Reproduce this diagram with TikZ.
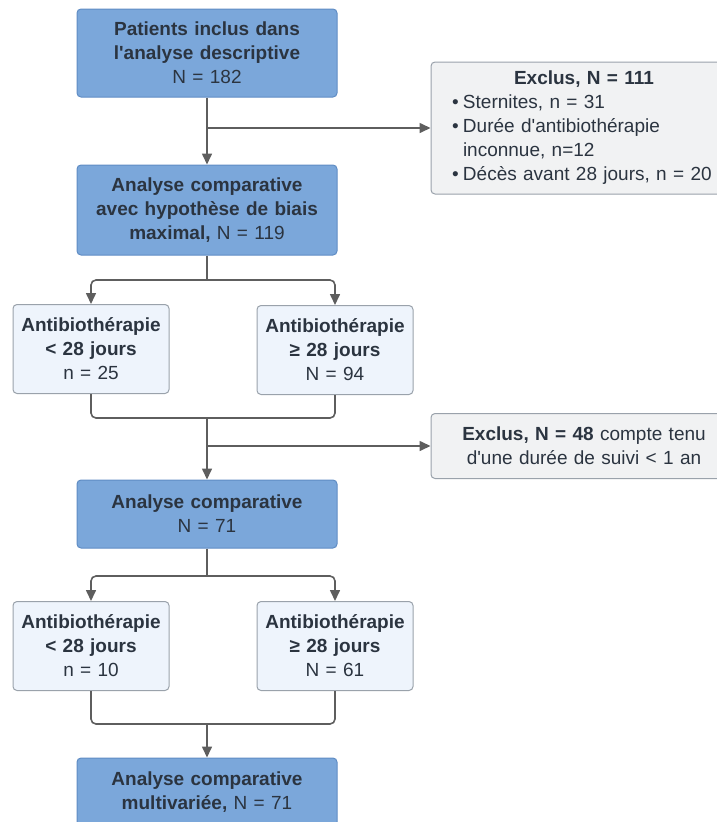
\documentclass[tikz,border=0pt]{standalone}
\usepackage{fontspec}
\setmainfont{Liberation Sans}[Ligatures=TeXOff]
\usetikzlibrary{arrows.meta,positioning}

\definecolor{bleu}{HTML}{7BA7DA}
\definecolor{bleubord}{HTML}{5F8CC4}
\definecolor{bleuclair}{HTML}{EEF4FC}
\definecolor{grisbord}{HTML}{9AA2AB}
\definecolor{grisclair}{HTML}{F1F2F3}
\definecolor{trait}{HTML}{5E5E5E}
\definecolor{encre}{HTML}{2B3440}

\newcommand\puce[1]{\par\hangindent=11pt\hangafter=1\noindent\makebox[11pt][l]{•}#1}

\tikzset{
  texte/.style={font=\fontsize{19}{24}\selectfont, text=encre},
  etape/.style={texte, draw=bleubord, fill=bleu, line width=1pt, rounded corners=4pt,
    align=center, inner xsep=5pt, text width=250pt, minimum width=260pt},
  groupe/.style={texte, draw=grisbord, fill=bleuclair, line width=1pt, rounded corners=4pt,
    align=center, inner xsep=3pt, text width=150pt, minimum width=156pt, minimum height=89pt},
  exclus/.style={texte, draw=grisbord, fill=grisclair, line width=1pt, rounded corners=4pt,
    inner xsep=21pt, text width=264pt, minimum width=306pt},
  lien/.style={draw=trait, line width=1.6pt, rounded corners=5pt},
  fleche/.style={lien, -{Triangle[length=11pt,width=10pt]}}
}

\begin{document}
\begin{tikzpicture}[x=1pt,y=1pt]
\useasboundingbox (0,0) rectangle (717,-822);

% colonne principale
\node[etape, minimum height=88pt] (inclus) at (207,-53)
  {\textbf{Patients inclus dans}\\\textbf{l'analyse descriptive}\\N = 182};
\node[etape, minimum height=90pt] (biais) at (207,-210)
  {\textbf{Analyse comparative}\\\textbf{avec hypothèse de biais}\\\textbf{maximal,} N = 119};
\node[etape, minimum height=68pt] (compar) at (207,-514)
  {\textbf{Analyse comparative}\\N = 71};
\node[etape, minimum height=68pt] (multi) at (207,-792)
  {\textbf{Analyse comparative}\\\textbf{multivariée,} N = 71};

% sous-groupes
\node[groupe] (court1) at (91,-349) {\textbf{Antibiothérapie}\\\textbf{< 28 jours}\\n = 25};
\node[groupe] (long1) at (335,-350) {\textbf{Antibiothérapie}\\\textbf{≥ 28 jours}\\N = 94};
\node[groupe] (court2) at (91,-646) {\textbf{Antibiothérapie}\\\textbf{< 28 jours}\\n = 10};
\node[groupe] (long2) at (335,-646) {\textbf{Antibiothérapie}\\\textbf{≥ 28 jours}\\N = 61};

% exclusions
\node[exclus, minimum height=132pt] (excl1) at (584,-128)
  {\centerline{\textbf{Exclus, N = 111}}
   \puce{Sternites, n = 31}
   \puce{Durée d'antibiothérapie\newline inconnue, n=12}
   \puce{Décès avant 28 jours, n = 20}};
\node[exclus, align=center, minimum height=65pt] (excl2) at (584,-446)
  {\textbf{Exclus, N = 48} compte tenu\\d'une durée de suivi < 1 an};

\coordinate (fourche1) at (207,-280);
\coordinate (jonction1) at (207,-418);
\coordinate (fourche2) at (207,-576);
\coordinate (jonction2) at (207,-724);

\draw[fleche] (inclus) -- (biais);
\draw[fleche] (inclus.south |- excl1.west) -- (excl1.west);

\draw[lien] (biais.south) -- (fourche1);
\draw[fleche] (fourche1) -| (court1.north);
\draw[fleche] (fourche1) -| (long1.north);

\draw[lien] (court1.south) |- (jonction1) -| (long1.south);
\draw[fleche] (jonction1) -- (compar.north);
\draw[fleche] (jonction1 |- excl2.west) -- (excl2.west);

\draw[lien] (compar.south) -- (fourche2);
\draw[fleche] (fourche2) -| (court2.north);
\draw[fleche] (fourche2) -| (long2.north);

\draw[lien] (court2.south) |- (jonction2) -| (long2.south);
\draw[fleche] (jonction2) -- (multi.north);
\end{tikzpicture}
\end{document}
